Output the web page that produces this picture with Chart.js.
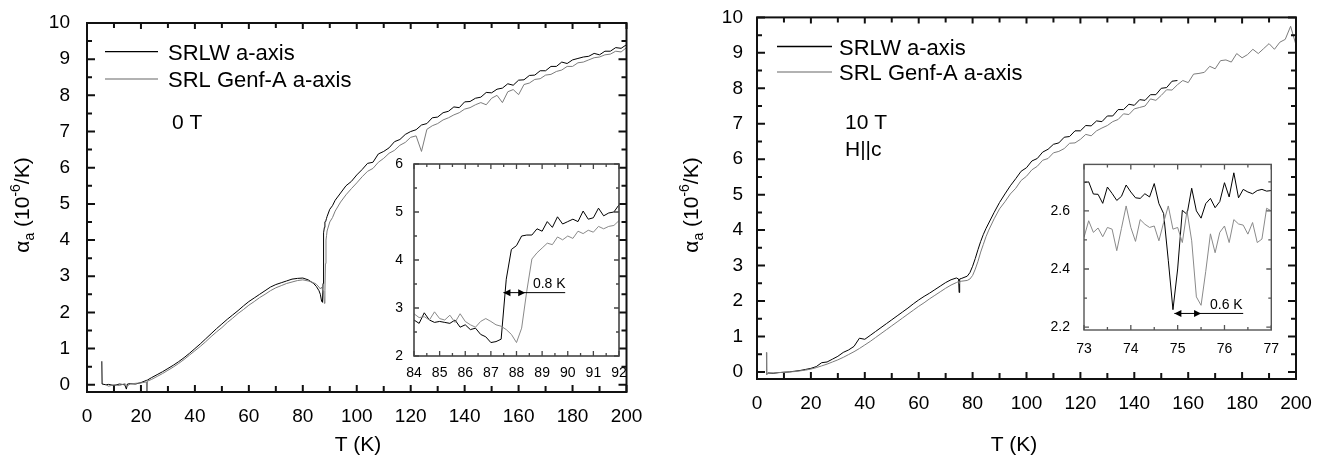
<!DOCTYPE html>
<html>
<head>
<meta charset="utf-8">
<script src="https://cdn.jsdelivr.net/npm/chart.js@4.4.1/dist/chart.umd.min.js"></script>
<style>
  html, body { margin: 0; padding: 0; background: #fff; }
  #page { position: relative; width: 1343px; height: 459px; overflow: hidden; }
  canvas { position: absolute; }
</style>
</head>
<body>
<div id="page">
  <canvas id="mainLeft" width="671" height="459" style="left:0;top:0"></canvas>
  <canvas id="mainRight" width="672" height="459" style="left:671px;top:0"></canvas>
  <canvas id="insetLeft" width="250" height="230" style="left:380px;top:150px"></canvas>
  <canvas id="insetRight" width="245" height="210" style="left:1040px;top:150px"></canvas>
</div>
<script>
// ---- data ----
const seriesNames = ['SRLW a-axis', 'SRL Genf-A a-axis'];

// 0 T panel
const leftT = [5.5, 5.6, 7, 8,
  10, 12, 14, 14.6, 15, 16, 18, 20,
  22, 22.2, 22.4,
  24, 26, 28, 30, 32, 34, 36, 38, 40, 42,
  44, 46, 48, 50, 52, 54, 56, 58, 60, 62,
  64, 66, 68, 70, 72, 74, 76, 78, 80, 82, 84,
  85, 86, 86.5, 87, 87.3, 87.5, 87.7, 88, 88.2, 88.4, 88.6, 88.8, 89, 90, 91, 92,
  94, 96, 98, 100, 102, 104, 106, 108, 110, 112,
  114, 116, 118, 120, 122, 124, 126, 128, 130, 132,
  134, 136, 138, 140, 142, 144, 146, 148, 150, 152,
  154, 156, 158, 160, 162, 164, 166, 168, 170, 172,
  174, 176, 178, 180, 182, 184, 186, 188, 190, 192,
  194, 196, 198, 200];
const leftSRLW = [0.65, 0.02, 0.00, 0.01,
  -0.02, 0.02, 0.00, -0.12, 0.02, 0.03, 0.02, 0.06,
  0.12, 0.12, 0.13,
  0.20, 0.28, 0.36, 0.45, 0.54, 0.64, 0.75, 0.87, 1.00, 1.13,
  1.27, 1.41, 1.55, 1.68, 1.81, 1.93, 2.05, 2.18, 2.30, 2.40,
  2.50, 2.60, 2.70, 2.77, 2.82, 2.87, 2.92, 2.94, 2.95, 2.90, 2.80,
  2.72, 2.60, 2.50, 2.30, 2.28, 2.80, 4.20, 4.35, 4.50, 4.52, 4.55, 4.60, 4.65, 4.85, 4.95, 5.10,
  5.30, 5.50, 5.62, 5.80, 5.95, 6.12, 6.15, 6.38, 6.45, 6.55,
  6.72, 6.78, 6.92, 7.00, 7.05, 7.18, 7.22, 7.38, 7.40, 7.52,
  7.56, 7.68, 7.66, 7.82, 7.83, 7.92, 7.95, 8.08, 8.07, 8.17,
  8.20, 8.32, 8.28, 8.42, 8.43, 8.55, 8.56, 8.68, 8.68, 8.80,
  8.80, 8.92, 8.88, 8.98, 9.02, 9.06, 9.08, 9.16, 9.12, 9.22,
  9.22, 9.32, 9.30, 9.40];
const leftGenf = [null, null, 0.00, -0.04,
  0.00, -0.02, 0.03, 0.00, -0.03, 0.02, 0.04, 0.05,
  0.08, -0.25, 0.10,
  0.15, 0.23, 0.31, 0.40, 0.49, 0.59, 0.70, 0.82, 0.94, 1.06,
  1.19, 1.33, 1.46, 1.58, 1.72, 1.84, 1.97, 2.08, 2.20, 2.30,
  2.41, 2.50, 2.60, 2.68, 2.74, 2.80, 2.84, 2.88, 2.90, 2.87, 2.82,
  2.78, 2.70, 2.65, 2.70, 2.62, 2.60, 2.50, 2.25, 2.60, 3.35, 4.00, 4.12, 4.25, 4.50, 4.62, 4.80,
  5.05, 5.25, 5.42, 5.58, 5.75, 5.90, 5.98, 6.15, 6.26, 6.40,
  6.48, 6.62, 6.70, 6.84, 6.88, 6.45, 7.06, 7.16, 7.22, 7.32,
  7.38, 7.46, 7.52, 7.62, 7.66, 7.74, 7.80, 7.74, 7.92, 8.00,
  7.80, 8.10, 8.16, 8.02, 8.30, 8.34, 8.44, 8.46, 8.56, 8.58,
  8.66, 8.70, 8.80, 8.80, 8.90, 8.92, 8.98, 9.04, 9.06, 9.12,
  9.14, 9.22, 9.20, 9.32];

// 10 T, H||c panel
const rightT = [3.5, 3.6,
  4, 6, 8, 10, 12, 14, 16, 18, 20,
  22, 24, 26, 28, 30, 32, 34, 36, 38, 40,
  42, 44, 46, 48, 50, 52, 54, 56, 58, 60,
  62, 64, 66, 68, 70, 72, 74,
  74.8, 75, 75.2,
  76, 78, 79, 80, 81, 82, 83, 84, 85, 86,
  88, 90, 92, 94, 96, 98, 100, 102, 104, 106,
  108, 110, 112, 114, 116, 118, 120, 122, 124, 126,
  128, 130, 132, 134, 136, 138, 140, 142, 144, 146,
  148, 150, 152, 154, 156, 158, 160, 162, 164, 166,
  168, 170, 172, 174, 176, 178, 180, 182, 184, 186,
  188, 190, 192, 194, 196, 198, 200];
const rightSRLW = [null, null,
  -0.03, -0.04, -0.02, -0.01, 0.00, 0.02, 0.04, 0.07, 0.10,
  0.15, 0.26, 0.28, 0.36, 0.44, 0.55, 0.62, 0.72, 0.95, 0.92,
  1.03, 1.14, 1.25, 1.36, 1.47, 1.58, 1.69, 1.80, 1.92, 2.03,
  2.13, 2.22, 2.32, 2.42, 2.52, 2.60, 2.65,
  2.62, 2.24, 2.62,
  2.64, 2.70, 2.80, 2.98, 3.20, 3.45, 3.68, 3.88, 4.05, 4.20,
  4.50, 4.78, 5.02, 5.25, 5.45, 5.66, 5.76, 5.95, 6.02, 6.20,
  6.28, 6.42, 6.46, 6.62, 6.64, 6.80, 6.80, 6.95, 6.94, 7.08,
  7.06, 7.22, 7.22, 7.40, 7.40, 7.55, 7.52, 7.68, 7.66, 7.82,
  7.82, 8.00, 8.02, 8.20, 8.22, null, null, null, null, null,
  null, null, null, null, null, null, null, null, null, null,
  null, null, null, null, null, null, null];
const rightGenf = [0.55, -0.08,
  -0.03, -0.03, -0.02, -0.01, 0.00, 0.01, 0.03, 0.05, 0.08,
  0.12, 0.17, 0.22, 0.28, 0.34, 0.41, 0.49, 0.57, 0.66, 0.76,
  0.86, 0.97, 1.08, 1.19, 1.30, 1.41, 1.52, 1.63, 1.74, 1.85,
  1.95, 2.06, 2.16, 2.26, 2.36, 2.45, 2.52,
  2.55, 2.50, 2.55,
  2.56, 2.58, 2.62, 2.72, 2.90, 3.12, 3.38, 3.60, 3.82, 4.00,
  4.32, 4.60, 4.80, 5.02, 5.18, 5.40, 5.52, 5.70, 5.80, 5.97,
  6.02, 6.18, 6.22, 6.30, 6.45, 6.46, 6.56, 6.70, 6.66, 6.80,
  6.88, 6.95, 7.06, 7.12, 7.28, 7.26, 7.42, 7.46, 7.50, 7.70,
  7.66, 7.80, 7.96, 7.95, 8.10, 8.22, 8.16, 8.40, 8.42, 8.45,
  8.62, 8.55, 8.78, 8.80, 8.74, 8.98, 8.86, 8.95, 9.10, 8.98,
  9.12, 9.26, 9.10, 9.30, 9.38, 9.75, 9.22];

// inset of the 0 T panel
const insetLeftT = [84.0, 84.2, 84.4, 84.6, 84.8, 85.0, 85.2, 85.4, 85.6, 85.8,
  86.0, 86.2, 86.4, 86.6, 86.8, 87.0, 87.2, 87.4, 87.6, 87.8,
  88.0, 88.2, 88.4, 88.6, 88.8, 89.0, 89.2, 89.4, 89.6, 89.8,
  90.0, 90.2, 90.4, 90.6, 90.8, 91.0, 91.2, 91.4, 91.6, 91.8, 92.0];
const insetLeftSRLW = [2.75, 2.68, 2.90, 2.75, 2.70, 2.72, 2.70, 2.68, 2.75, 2.60,
  2.65, 2.55, 2.58, 2.45, 2.40, 2.28, 2.30, 2.35, 3.60, 4.22,
  4.30, 4.50, 4.52, 4.52, 4.65, 4.60, 4.80, 4.68, 4.90, 4.75,
  4.80, 4.85, 4.80, 5.02, 4.85, 4.88, 5.08, 4.92, 4.98, 5.00, 5.15];
const insetLeftGenf = [2.88, 2.80, 2.82, 2.75, 2.92, 2.78, 2.75, 2.85, 2.70, 2.88,
  2.72, 2.65, 2.60, 2.72, 2.78, 2.72, 2.65, 2.62, 2.55, 2.45,
  2.28, 2.58, 3.35, 4.02, 4.15, 4.25, 4.35, 4.32, 4.48, 4.42,
  4.50, 4.45, 4.60, 4.55, 4.62, 4.58, 4.70, 4.65, 4.70, 4.72, 4.82];

// inset of the 10 T panel
const insetRightT = [73.0, 73.1, 73.2, 73.3, 73.4, 73.5, 73.6, 73.7, 73.8, 73.9,
  74.0, 74.1, 74.2, 74.3, 74.4, 74.5, 74.6, 74.7, 74.8, 74.9,
  75.0, 75.1, 75.2, 75.3, 75.4, 75.5, 75.6, 75.7, 75.8, 75.9,
  76.0, 76.1, 76.2, 76.3, 76.4, 76.5, 76.6, 76.7, 76.8, 76.9, 77.0];
const insetRightSRLW = [2.697, 2.700, 2.658, 2.657, 2.626, 2.682, 2.660, 2.636, 2.650, 2.689,
  2.665, 2.645, 2.643, 2.659, 2.648, 2.694, 2.625, 2.591, 2.430, 2.260,
  2.400, 2.602, 2.588, 2.678, 2.600, 2.575, 2.625, 2.643, 2.611, 2.632,
  2.697, 2.648, 2.731, 2.645, 2.674, 2.665, 2.659, 2.670, 2.674, 2.668, 2.670];
const insetRightGenf = [2.509, 2.566, 2.526, 2.541, 2.511, 2.543, 2.537, 2.463, 2.540, 2.617,
  2.543, 2.495, 2.570, 2.554, 2.543, 2.548, 2.497, 2.560, 2.617, 2.537,
  2.543, 2.491, 2.600, 2.497, 2.304, 2.275, 2.392, 2.521, 2.456, 2.526,
  2.548, 2.491, 2.570, 2.555, 2.551, 2.520, 2.560, 2.491, 2.503, 2.609, 2.600];

// tick labels
const mainXTicks = [0, 20, 40, 60, 80, 100, 120, 140, 160, 180, 200];
const mainYTicks = [0, 1, 2, 3, 4, 5, 6, 7, 8, 9, 10];
const insetLeftXTicks = [84, 85, 86, 87, 88, 89, 90, 91, 92];
const insetLeftYTicks = [2, 3, 4, 5, 6];
const insetRightXTicks = [73, 74, 75, 76, 77];
const insetRightYTicks = [2.2, 2.4, 2.6];

// ---- drawing ----
const FONT = "'Liberation Sans', Arial, Helvetica, sans-serif";
Chart.defaults.font.family = FONT;
Chart.defaults.color = '#000';

const xy = (T, v) => T.map((t, i) => ({ x: t, y: v[i] }));
const useTicks = vals => scale => { scale.ticks = vals.map(v => ({ value: v })); };

function eachStep(min, max, minor, major, fn) {
  const n0 = Math.ceil(min / minor - 1e-9), n1 = Math.floor(max / minor + 1e-9);
  for (let n = n0; n <= n1; n++) {
    const v = n * minor, r = v / major;
    fn(v, Math.abs(r - Math.round(r)) < 1e-6);
  }
}

// per-canvas settings for the box frames and the extra text
const decor = {};

// box frame with inward ticks on all four sides
const frameTicks = {
  id: 'frameTicks',
  beforeDraw(chart) {
    const o = decor[chart.canvas.id].frame;
    if (!o.fill) return;
    const a = chart.chartArea, ctx = chart.ctx;
    ctx.save();
    ctx.fillStyle = o.fill;
    ctx.fillRect(a.left, a.top, a.right - a.left, a.bottom - a.top);
    ctx.restore();
  },
  afterDatasetsDraw(chart) {
    const o = decor[chart.canvas.id].frame;
    const { ctx, chartArea: a } = chart;
    const x = chart.scales.x, y = chart.scales.y;
    ctx.save();
    ctx.strokeStyle = o.color;
    ctx.lineWidth = o.tickWidth;
    ctx.beginPath();
    eachStep(x.min, x.max, o.xMinor, o.xMajor, (v, isMajor) => {
      const p = x.getPixelForValue(v);
      ctx.moveTo(p, a.bottom); ctx.lineTo(p, a.bottom - (isMajor ? o.bMajor : o.bMinor));
      ctx.moveTo(p, a.top); ctx.lineTo(p, a.top + (isMajor ? o.tMajor : o.tMinor));
    });
    eachStep(y.min, y.max, o.yMinor, o.yMajor, (v, isMajor) => {
      const p = y.getPixelForValue(v), len = isMajor ? o.lMajor : o.lMinor;
      ctx.moveTo(a.left, p); ctx.lineTo(a.left + len, p);
      ctx.moveTo(a.right, p); ctx.lineTo(a.right - len, p);
    });
    ctx.stroke();
    ctx.lineWidth = o.width;
    ctx.strokeRect(a.left, a.top, a.right - a.left, a.bottom - a.top);
    ctx.restore();
  }
};

// legend, notes and axis titles of a main panel
const panelText = {
  id: 'panelText',
  afterDraw(chart) {
    const o = decor[chart.canvas.id].text;
    if (!o) return;
    const ctx = chart.ctx;
    ctx.save();
    const L = o.legend;
    chart.data.datasets.forEach((ds, i) => {
      const yy = L.rows[i];
      ctx.strokeStyle = L.colors[i];
      ctx.lineWidth = 1.3;
      ctx.beginPath(); ctx.moveTo(L.x1, yy); ctx.lineTo(L.x2, yy); ctx.stroke();
      ctx.fillStyle = '#000';
      ctx.font = '22px ' + FONT;
      ctx.textBaseline = 'alphabetic';
      ctx.fillText(ds.label, L.tx, yy + 8);
    });
    ctx.font = '21px ' + FONT;
    o.notes.forEach(n => ctx.fillText(n.text, n.x, n.y + 7.5));
    ctx.textAlign = 'center';
    ctx.fillText(o.xTitle.text, o.xTitle.x, o.xTitle.y + 7.5);
    // y title, rotated, with sub- and superscript
    ctx.translate(o.yTitle.x, o.yTitle.y);
    ctx.rotate(-Math.PI / 2);
    ctx.textAlign = 'left';
    const parts = [['\u03b1', 21, 0], ['a', 14, 5], [' (10', 21, 0], ['-6', 14, -9], ['/K)', 21, 0]];
    let w = 0;
    parts.forEach(p => { ctx.font = p[1] + 'px ' + FONT; w += ctx.measureText(p[0]).width; });
    let cx = -w / 2;
    parts.forEach(p => {
      ctx.font = p[1] + 'px ' + FONT;
      ctx.fillText(p[0], cx, p[2]);
      cx += ctx.measureText(p[0]).width;
    });
    ctx.restore();
  }
};

// double arrow marking the shift in an inset
const gapArrow = {
  id: 'gapArrow',
  afterDatasetsDraw(chart) {
    const o = decor[chart.canvas.id].arrow;
    if (!o) return;
    const { ctx } = chart, x = chart.scales.x, y = chart.scales.y;
    const x1 = x.getPixelForValue(o.from), x2 = x.getPixelForValue(o.to);
    const x3 = x.getPixelForValue(o.end), py = y.getPixelForValue(o.y);
    ctx.save();
    ctx.strokeStyle = '#000'; ctx.fillStyle = '#000'; ctx.lineWidth = 1;
    ctx.beginPath(); ctx.moveTo(x1, py); ctx.lineTo(x3, py); ctx.stroke();
    ctx.beginPath();
    ctx.moveTo(x1, py); ctx.lineTo(x1 + 7, py - 3.5); ctx.lineTo(x1 + 7, py + 3.5); ctx.closePath();
    ctx.moveTo(x2, py); ctx.lineTo(x2 - 7, py - 3.5); ctx.lineTo(x2 - 7, py + 3.5); ctx.closePath();
    ctx.fill();
    ctx.font = '14px ' + FONT;
    ctx.fillText(o.text, x.getPixelForValue(o.tx), y.getPixelForValue(o.ty));
    ctx.restore();
  }
};

function makeChart(id, T, a1, a2, c) {
  decor[id] = { frame: c.frame, text: c.text, arrow: c.arrow };
  return new Chart(document.getElementById(id), {
    type: 'line',
    data: {
      datasets: [
        { label: seriesNames[0], data: xy(T, a1), borderColor: '#000', borderWidth: c.lw,
          pointRadius: 0, tension: 0, order: 1 },
        { label: seriesNames[1], data: xy(T, a2), borderColor: c.gray, borderWidth: c.lw,
          pointRadius: 0, tension: 0, order: 0 }
      ]
    },
    options: {
      responsive: false,
      animation: false,
      events: [],
      layout: { padding: c.pad },
      plugins: { legend: { display: false }, tooltip: { enabled: false } },
      scales: {
        x: {
          type: 'linear', min: c.xr[0], max: c.xr[1],
          afterBuildTicks: useTicks(c.xt),
          afterFit: s => { s.height = c.xh; },
          grid: { display: false }, border: { display: false },
          ticks: { padding: c.xpad, autoSkip: false, maxRotation: 0, color: '#000',
                   font: { size: c.fs, family: FONT } }
        },
        y: {
          type: 'linear', min: c.yr[0], max: c.yr[1],
          afterBuildTicks: useTicks(c.yt),
          afterFit: s => { s.width = c.yw; },
          grid: { display: false }, border: { display: false },
          ticks: { padding: c.ypad, color: '#000', font: { size: c.fs, family: FONT } }
        }
      }
    },
    plugins: [frameTicks, panelText, gapArrow]
  });
}

const mainFrame = { color: '#111', width: 2, tickWidth: 2,
                    bMajor: 7, bMinor: 6, tMajor: 6, tMinor: 5, lMajor: 8, lMinor: 5,
                    xMinor: 10, xMajor: 20, yMinor: 0.5, yMajor: 1 };

makeChart('mainLeft', leftT, leftSRLW, leftGenf, {
  lw: 1, gray: '#7c7c7c', fs: 19,
  pad: { top: 23, right: 44.5, bottom: 0, left: 0 },
  xr: [0, 200], yr: [-0.2, 10], xt: mainXTicks, yt: mainYTicks,
  xh: 67, yw: 87, xpad: 5, ypad: 9,
  frame: mainFrame,
  text: {
    legend: { x1: 105, x2: 158, tx: 168, rows: [51.7, 79], colors: ['#000', '#999'] },
    notes: [{ text: '0 T', x: 172, y: 121.7 }],
    xTitle: { text: 'T (K)', x: 358, y: 443 },
    yTitle: { x: 29, y: 205 }
  }
});

makeChart('mainRight', rightT, rightSRLW, rightGenf, {
  lw: 1, gray: '#7c7c7c', fs: 19,
  pad: { top: 15, right: 47, bottom: 0, left: 0 },
  xr: [0, 200], yr: [-0.2, 10], xt: mainXTicks, yt: mainYTicks,
  xh: 80, yw: 86, xpad: 5, ypad: 6,
  frame: mainFrame,
  text: {
    legend: { x1: 106, x2: 161, tx: 168, rows: [46.5, 72], colors: ['#000', '#999'] },
    notes: [{ text: '10 T', x: 174, y: 121.7 }, { text: 'H||c', x: 174, y: 148.3 }],
    xTitle: { text: 'T (K)', x: 343, y: 443 },
    yTitle: { x: 27, y: 205 }
  }
});

makeChart('insetLeft', insetLeftT, insetLeftSRLW, insetLeftGenf, {
  lw: 1, gray: '#8a8a8a', fs: 14,
  pad: { top: 14, right: 11, bottom: 0, left: 0 },
  xr: [84, 92], yr: [2, 6], xt: insetLeftXTicks, yt: insetLeftYTicks,
  xh: 24, yw: 34, xpad: 1, ypad: 3,
  frame: { color: '#444', width: 1.6, tickWidth: 1.3,
           bMajor: 5, bMinor: 3, tMajor: 5, tMinor: 3, lMajor: 5, lMinor: 3, fill: '#fff',
           xMinor: 0.5, xMajor: 1, yMinor: 0.5, yMajor: 1 },
  arrow: { from: 87.49, to: 88.34, end: 89.9, y: 3.32, text: '0.8 K', tx: 88.64, ty: 3.42 }
});

makeChart('insetRight', insetRightT, insetRightSRLW, insetRightGenf, {
  lw: 1, gray: '#8a8a8a', fs: 14,
  pad: { top: 14, right: 13.7, bottom: 0, left: 0 },
  xr: [73, 77], yr: [2.19, 2.76], xt: insetRightXTicks, yt: insetRightYTicks,
  xh: 30, yw: 44, xpad: 3, ypad: 6,
  frame: { color: '#555', width: 1.4, tickWidth: 1.3,
           bMajor: 5, bMinor: 3, tMajor: 5, tMinor: 3, lMajor: 5, lMinor: 3, fill: '#fff',
           xMinor: 0.5, xMajor: 1, yMinor: 0.1, yMajor: 0.2 },
  arrow: { from: 74.93, to: 75.5, end: 76.4, y: 2.247, text: '0.6 K', tx: 75.69, ty: 2.262 }
});
</script>
</body>
</html>
